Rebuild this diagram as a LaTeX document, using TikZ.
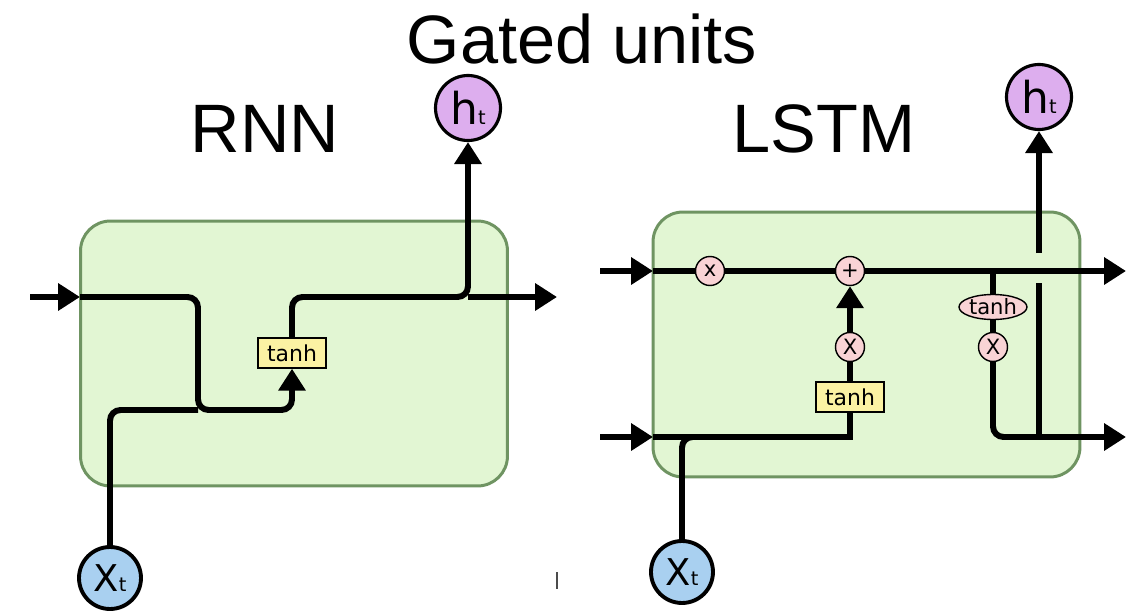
\documentclass[tikz,border=0pt]{standalone}
\usepackage{fontspec}
\usepackage{tikz}
\usetikzlibrary{arrows.meta,shapes.geometric}
\newfontfamily\headfont{Liberation Sans}
\newfontfamily\labfont{DejaVu Sans}
\definecolor{cellfill}{HTML}{E2F6D3}
\definecolor{celledge}{HTML}{6F9462}
\definecolor{oppink}{HTML}{F9D3D5}
\definecolor{tanhyellow}{HTML}{FBF2A3}
\definecolor{inblue}{HTML}{A9D0F0}
\definecolor{outviolet}{HTML}{DDAEEE}
\newcommand{\xtlabel}{{\labfont\fontsize{21}{21}\selectfont X{\fontsize{11}{11}\selectfont t}}}
\newcommand{\htlabel}{{\labfont\fontsize{25}{25}\selectfont h{\fontsize{11}{11}\selectfont t}}}
\tikzset{
  cell/.style={draw=celledge,fill=cellfill,line width=1.7pt,rounded corners=17pt,
    minimum width=8.54cm,minimum height=5.3cm},
  wire/.style={line width=3.4pt},
  flow/.style={wire,-{Triangle[length=12.5pt,width=15pt]}},
  opcircle/.style={circle,draw,fill=oppink,line width=0.8pt,minimum size=0.58cm,
    inner sep=0pt,font=\labfont\fontsize{12}{12}\selectfont},
  layerbox/.style={rectangle,draw,fill=tanhyellow,line width=0.8pt,minimum width=1.36cm,
    minimum height=0.6cm,inner sep=0pt,font=\labfont\fontsize{12.5}{13}\selectfont},
  layeroval/.style={ellipse,draw,fill=oppink,line width=0.8pt,minimum width=1.36cm,
    minimum height=0.5cm,inner sep=0pt,font=\labfont\fontsize{12}{12}\selectfont},
  inputnode/.style={circle,draw,fill=inblue,line width=2.2pt,minimum size=1.24cm,inner sep=0pt},
  outputnode/.style={circle,draw,fill=outviolet,line width=1.8pt,minimum size=1.3cm,inner sep=0pt},
  heading/.style={anchor=base,font=\headfont\fontsize{39}{39}\selectfont}
}

\begin{document}
\begin{tikzpicture}[x=0.02cm,y=-0.02cm]
    \useasboundingbox (0,0) rectangle (1127,612);
    % Headings
    \node[heading] (title) at (582,63) {Gated units};
    \node[heading] (rnnlabel) at (265,152) {RNN};
    \node[heading] (lstmlabel) at (824,152) {LSTM};
    % RNN cell
    \node[cell] (rnn) at (294,353.5) {};
    \node[layerbox] (rnntanh) at (292,353) {tanh};
    \node[inputnode] (rnnx) at (110,578) {\xtlabel};
    \node[outputnode] (rnnh) at (468,108) {\htlabel};
    \coordinate (rnnin) at (30,297);
    \coordinate (rnnleft) at (80,297);
    \coordinate (rnnjoin) at (198,410);
    \coordinate (rnnsplit) at (468,297);
    \coordinate (rnnout) at (557,297);
    \draw[flow] (rnnin) -- (rnnleft);
    \draw[flow,rounded corners=6pt] (rnnleft) -| (rnnjoin) -| (rnntanh.south);
    \draw[wire,rounded corners=6pt] (rnnx.north) |- (rnnjoin);
    \draw[flow,rounded corners=6pt] (rnntanh.north) |- (rnnsplit) -- (rnnh.south);
    \draw[flow] (rnnsplit) -- (rnnout);
    % LSTM cell
    \node[cell] (lstm) at (866.5,344.5) {};
    \foreach \name/\sym/\x/\y in {forget/x/710/271, inmul/X/850/347, outmul/X/993/347}
      \node[opcircle] (\name) at (\x,\y) {\sym};
    \node[opcircle] (add) at (850,271) {+};
    \node[layerbox] (celltanh) at (850,397) {tanh};
    \node[layeroval] (outtanh) at (993,307) {tanh};
    \node[inputnode] (lstmx) at (682,572) {\xtlabel};
    \node[outputnode] (lstmh) at (1039,97) {\htlabel};
    \coordinate (cin) at (600,271);
    \coordinate (cleft) at (653,271);
    \coordinate (cbranch) at (993,271);
    \coordinate (cout) at (1126,271);
    \coordinate (hin) at (600,437);
    \coordinate (hleft) at (653,437);
    \coordinate (xjoin) at (720,437);
    \coordinate (hmerge) at (1039,437);
    \coordinate (hout) at (1126,437);
    \coordinate (gaplow) at (1039,283);
    \coordinate (gaphigh) at (1039,253);
    \draw[flow] (cin) -- (cleft);
    \draw[wire] (cleft) -- (forget);
    \draw[wire] (forget) -- (add);
    \draw[flow] (add) -- (cout);
    \draw[flow] (hin) -- (hleft);
    \draw[wire] (hleft) -| (celltanh.south);
    \draw[wire,rounded corners=6pt] (lstmx.north) |- (xjoin);
    \draw[wire] (celltanh) -- (inmul);
    \draw[flow] (inmul) -- (add);
    \draw[wire] (cbranch) -- (outtanh);
    \draw[wire] (outtanh) -- (outmul);
    \draw[flow,rounded corners=6pt] (outmul.south) |- (hout);
    \draw[wire] (hmerge) -- (gaplow);
    \draw[flow] (gaphigh) -- (lstmh.south);
    % stray mark
    \draw[line width=1.2pt,black!70] (557,572) -- (557,589);
\end{tikzpicture}
\end{document}
